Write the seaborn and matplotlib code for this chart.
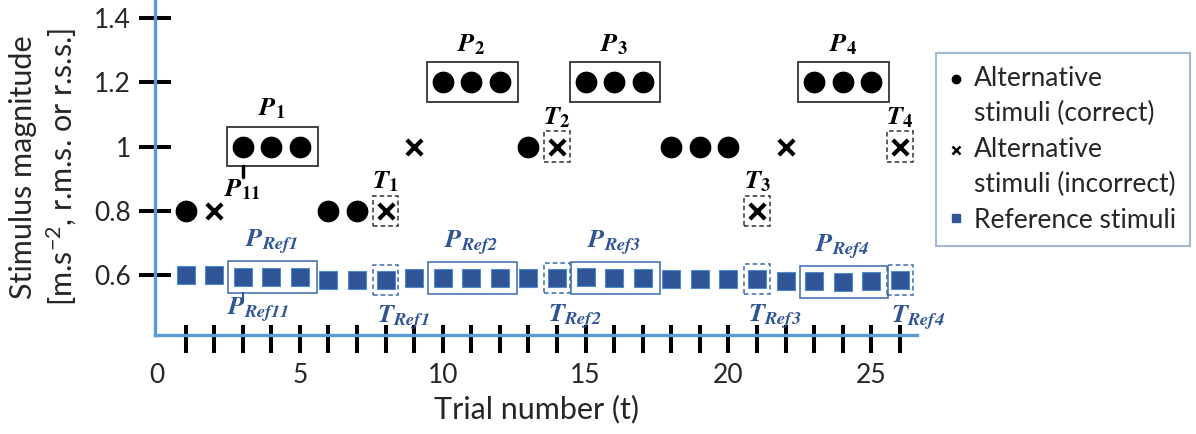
import numpy as np
import pandas as pd
import seaborn as sns
import matplotlib
matplotlib.use("Agg")
import matplotlib.pyplot as plt
from matplotlib.patches import Rectangle
from matplotlib.lines import Line2D
from matplotlib.legend_handler import HandlerLine2D

# ---- data -------------------------------------------------------------
trials = list(range(1, 27))
alt_values = [0.8, 0.8, 1.0, 1.0, 1.0, 0.8, 0.8, 0.8, 1.0, 1.2, 1.2, 1.2, 1.0,
              1.0, 1.2, 1.2, 1.2, 1.0, 1.0, 1.0, 0.8, 1.0, 1.2, 1.2, 1.2, 1.0]
alt_correct = [1, 0, 1, 1, 1, 1, 1, 0, 0, 1, 1, 1, 1,
               0, 1, 1, 1, 1, 1, 1, 0, 0, 1, 1, 1, 0]
ref_values = [0.600, 0.600, 0.595, 0.595, 0.595, 0.585, 0.585, 0.585, 0.590,
              0.590, 0.590, 0.590, 0.590, 0.590, 0.595, 0.590, 0.590, 0.588,
              0.588, 0.588, 0.588, 0.580, 0.580, 0.578, 0.580, 0.585]
p_blocks = [(3, 5), (10, 12), (15, 17), (23, 25)]   # runs of three correct answers
t_trials = [8, 14, 21, 26]                           # turning points
y_ticks = [0.6, 0.8, 1.0, 1.2, 1.4]
y_tick_labels = ["0.6", "0.8", "1", "1.2", "1.4"]
x_label_ticks = [0, 5, 10, 15, 20, 25]

df = pd.DataFrame({"trial": trials, "alt": alt_values,
                   "correct": alt_correct, "ref": ref_values})

# ---- style ------------------------------------------------------------
sns.set_style("white")
plt.rcParams["font.family"] = ["Lato", "DejaVu Sans"]
plt.rcParams["mathtext.fontset"] = "custom"
plt.rcParams["mathtext.rm"] = "Lato"
plt.rcParams["mathtext.it"] = "Lato:italic"
plt.rcParams["mathtext.bf"] = "STIXGeneral:bold"
plt.rcParams["mathtext.bfit"] = "STIXGeneral:italic:bold"

AXIS_BLUE = "#5B9BD5"
REF_BLUE = "#2F5597"

fig = plt.figure(figsize=(11.96, 4.34), dpi=100)
ax = fig.add_axes([155 / 1196, 1 - 335 / 434, (917 - 155) / 1196, 335 / 434])

# ---- points -----------------------------------------------------------
sns.scatterplot(data=df[df.correct == 1], x="trial", y="alt", ax=ax,
                marker="o", s=210, color="black", edgecolor="black",
                legend=False, zorder=4)
sns.scatterplot(data=df[df.correct == 0], x="trial", y="alt", ax=ax,
                marker="x", s=120, color="black", linewidth=3,
                legend=False, zorder=4)
sns.scatterplot(data=df, x="trial", y="ref", ax=ax,
                marker="s", s=150, color=REF_BLUE, edgecolor="#4F8BD0",
                linewidth=0.8, legend=False, zorder=4)

# ---- blocks and turning points ---------------------------------------
txt_kw = dict(fontsize=19, clip_on=False, zorder=5)
for k, (a, b) in enumerate(p_blocks, start=1):
    yv = df.alt[df.trial == a].iloc[0]
    ax.add_patch(Rectangle((a - 0.56, yv - 0.062), (b - a) + 1.18, 0.124,
                           fill=False, edgecolor="#333333", lw=1.3, zorder=3))
    ax.text((a + b) / 2, yv + 0.078, rf"$\mathbfit{{P}}_{{\mathbf{{{k}}}}}$",
            ha="center", va="bottom", color="black", **txt_kw)
    ry = np.mean(ref_values[a - 1:b])
    ax.add_patch(Rectangle((a - 0.5, ry - 0.05), (b - a) + 1.1, 0.10,
                           fill=False, edgecolor="#3A6AB0", lw=1.1, zorder=3))
    ax.text((a + b) / 2, ry + 0.062, rf"$\mathbfit{{P}}_{{\mathbfit{{Ref{k}}}}}$",
            ha="center", va="bottom", color=REF_BLUE, **txt_kw)
    if k == 1:
        ax.plot([a, a], [yv - 0.062, yv - 0.095], color="black", lw=2.5, zorder=3)
        ax.text(a, yv - 0.095, r"$\mathbfit{P}_{\mathbf{11}}$", ha="center",
                va="top", color="black", **txt_kw)
        ax.plot([a, a], [ry - 0.05, ry - 0.07], color=REF_BLUE, lw=1.5, zorder=3)
        ax.text(a - 0.55, ry - 0.06, r"$\mathbfit{P}_{\mathbfit{Ref11}}$",
                ha="left", va="top", color=REF_BLUE, **txt_kw)

for k, t in enumerate(t_trials, start=1):
    yv = df.alt[df.trial == t].iloc[0]
    ax.add_patch(Rectangle((t - 0.45, yv - 0.047), 0.9, 0.094, fill=False,
                           edgecolor="#333333", lw=1.1, ls=(0, (3, 2)), zorder=3))
    ax.text(t, yv + 0.052, rf"$\mathbfit{{T}}_{{\mathbf{{{k}}}}}$",
            ha="center", va="bottom", color="black", **txt_kw)
    ry = ref_values[t - 1]
    ax.add_patch(Rectangle((t - 0.45, ry - 0.047), 0.9, 0.094, fill=False,
                           edgecolor="#3A6AB0", lw=1.1, ls=(0, (3, 2)), zorder=3))
    ax.text(t - 0.3, ry - 0.075, rf"$\mathbfit{{T}}_{{\mathbfit{{Ref{k}}}}}$",
            ha="left", va="top", color=REF_BLUE, **txt_kw)

# ---- axes -------------------------------------------------------------
ax.set_xlim(-0.07, 26.6)
ax.set_ylim(0.4134, 1.456)
for side in ("top", "right"):
    ax.spines[side].set_visible(False)
for side in ("left", "bottom"):
    ax.spines[side].set_color(AXIS_BLUE)
    ax.spines[side].set_linewidth(2.4)

ax.set_yticks(y_ticks)
ax.set_yticklabels(y_tick_labels)
ax.set_xticks(range(0, 27))
ax.set_xticklabels([str(t) if t in x_label_ticks else "" for t in range(0, 27)])
# short inner stubs so the trial ticks cross the axis line
ax.xaxis.remove_overlapping_locs = False
ax.set_xticks(range(1, 27), minor=True)
ax.tick_params(axis="y", left=True, direction="inout", length=23, width=2.9,
               color="black", labelsize=19, pad=6)
ax.tick_params(axis="x", which="major", bottom=True, direction="out",
               length=13, width=2.9, color="black", labelsize=19, pad=7)
ax.tick_params(axis="x", which="minor", bottom=True, direction="in",
               length=7, width=2.9, color="black")
ax.xaxis.get_major_ticks()[0].tick1line.set_visible(False)
ax.set_xlabel("Trial number (t)", fontsize=22, labelpad=5)
ax.set_ylabel("")
fig.text(0.037, 0.615, "Stimulus magnitude\n[m.s$^{-2}$, r.m.s. or r.s.s.]",
         rotation=90, ha="center", va="center", fontsize=22, linespacing=1.3)


# ---- legend -----------------------------------------------------------
class FirstLineHandler(HandlerLine2D):
    """Place the legend marker level with the first text line."""

    def __init__(self, dy=0.0, **kw):
        super().__init__(**kw)
        self.dy = dy

    def create_artists(self, legend, orig_handle, xdescent, ydescent, width,
                       height, fontsize, trans):
        arts = super().create_artists(legend, orig_handle, xdescent, ydescent,
                                      width, height, fontsize, trans)
        for a in arts:
            a.set_ydata(np.asarray(a.get_ydata()) + self.dy)
        return arts


handles = [
    Line2D([], [], marker="o", ls="", color="black", markersize=6),
    Line2D([], [], marker="x", ls="", color="black", markersize=6, mew=1.8),
    Line2D([], [], marker="s", ls="", color=REF_BLUE, markersize=6),
]
labels = ["Alternative\nstimuli (correct)", "Alternative\nstimuli (incorrect)",
          "Reference stimuli"]
leg = fig.legend(handles, labels, loc="upper left",
                 bbox_to_anchor=(936 / 1196, 1 - 53 / 434), fontsize=19,
                 frameon=True, fancybox=False, handlelength=0.55,
                 handletextpad=0.4, labelspacing=0.4, borderpad=0.5,
                 borderaxespad=0,
                 handler_map={handles[0]: FirstLineHandler(dy=13),
                              handles[1]: FirstLineHandler(dy=13)})
leg.get_frame().set_edgecolor("#8EA9C8")
leg.get_frame().set_linewidth(1.5)
for t in leg.get_texts():
    t.set_linespacing(1.5)

fig.savefig("out.png", dpi=100)
